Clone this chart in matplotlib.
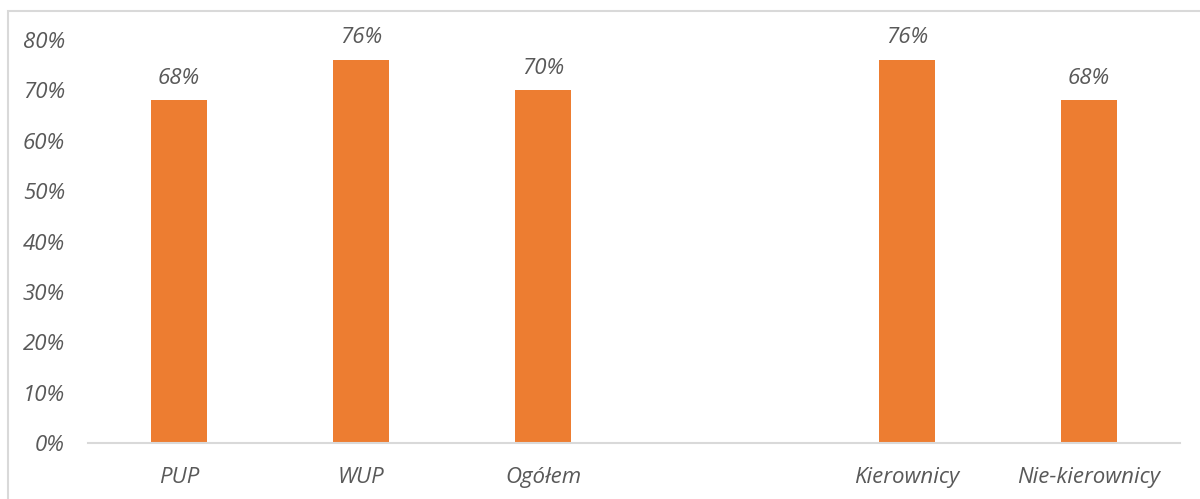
import matplotlib
matplotlib.use("Agg")
import matplotlib.pyplot as plt
from matplotlib.patches import Rectangle
import numpy as np

categories = ["PUP", "WUP", "Ogółem", "", "Kierownicy", "Nie-kierownicy"]
values = [0.68, 0.76, 0.70, None, 0.76, 0.68]
yticks = [0, 0.1, 0.2, 0.3, 0.4, 0.5, 0.6, 0.7, 0.8]

plt.rcParams['font.family'] = ['Open Sans', 'DejaVu Sans']
txt_color = "#595959"
bar_color = "#ED7D31"
fs = 16

fig = plt.figure(figsize=(12, 4.99), dpi=100)
ax = fig.add_axes([88/1200, 1-443/499, (1180-88)/1200, (443-40)/499])

x = np.arange(len(categories))
for xi, v in zip(x, values):
    if v is None:
        continue
    ax.bar(xi, v, width=0.31, color=bar_color, zorder=2)
    ax.annotate(f"{round(v*100)}%", xy=(xi, v), xytext=(0, 16),
                textcoords="offset points", ha="center", va="center",
                fontsize=fs, style="italic", color=txt_color, annotation_clip=False)

ax.set_xlim(-0.5, len(categories) - 0.5)
ax.set_ylim(0, 0.8)
ax.set_yticks(yticks)
ax.set_yticklabels([f"{round(t*100)}%" for t in yticks], fontsize=fs, style="italic", color=txt_color)
ax.set_xticks(x)
ax.set_xticklabels(categories, fontsize=fs, style="italic", color=txt_color)
ax.tick_params(axis="both", length=0)
ax.tick_params(axis="y", pad=16.5)
ax.tick_params(axis="x", pad=17)
for s in ["top", "right", "left"]:
    ax.spines[s].set_visible(False)
ax.spines["bottom"].set_color("#D9D9D9")
ax.spines["bottom"].set_linewidth(1.5)

fig.patches.append(Rectangle((7.5/1200, -0.1), 1.2, (1-11.5/499) + 0.1,
                             transform=fig.transFigure, fill=False,
                             edgecolor="#D9D9D9", linewidth=1.5, zorder=0))

fig.savefig("out.png", dpi=100)
